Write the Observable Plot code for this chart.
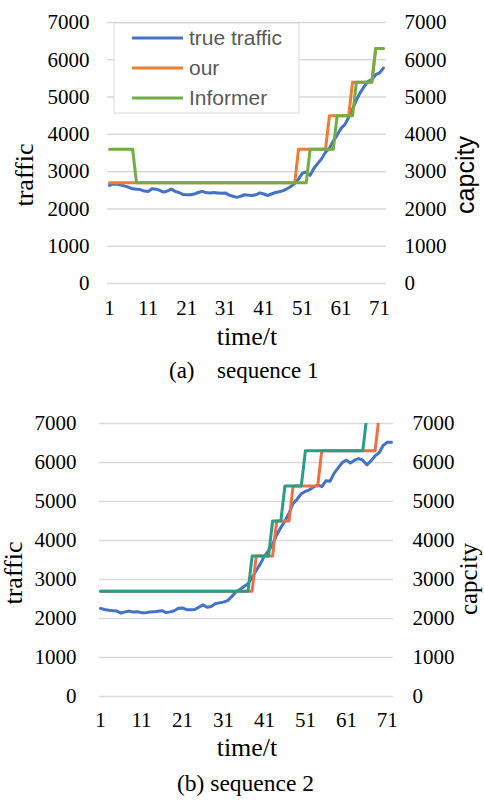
<!DOCTYPE html>
<html><head><meta charset="utf-8">
<script src="https://cdn.jsdelivr.net/npm/d3@7"></script>
<script src="https://cdn.jsdelivr.net/npm/@observablehq/plot@0.6"></script>
<style>
body{margin:0;background:#fff;}
#wrap{position:relative;width:484px;height:800px;overflow:hidden;background:#fff;}
#wrap svg{position:absolute;left:0;}
</style></head><body><div id="wrap"></div>
<script>
// ---------- data ----------
const xTicks = [1, 11, 21, 31, 41, 51, 61, 71];
const yTicks = [0, 1000, 2000, 3000, 4000, 5000, 6000, 7000];
const seriesNames = ["true traffic", "our", "Informer"];

const seq1True = [
  2630,2670,2660,2640,2610,2580,2540,2530,2520,2480,
  2470,2540,2530,2500,2450,2480,2530,2470,2440,2390,
  2380,2380,2400,2440,2470,2440,2430,2440,2430,2420,
  2430,2370,2340,2310,2340,2380,2370,2360,2380,2430,
  2400,2360,2400,2440,2460,2490,2540,2600,2680,2800,
  2960,2990,2900,3090,3220,3350,3520,3630,3820,3980,
  4160,4260,4460,4680,4920,5120,5280,5420,5470,5600,
  5650,5780];
const seq1Our = [
  2700,2700,2700,2700,2700,2700,2700,2700,2700,2700,
  2700,2700,2700,2700,2700,2700,2700,2700,2700,2700,
  2700,2700,2700,2700,2700,2700,2700,2700,2700,2700,
  2700,2700,2700,2700,2700,2700,2700,2700,2700,2700,
  2700,2700,2700,2700,2700,2700,2700,2700,2700,3600,
  3600,3600,3600,3600,3600,3600,3600,4500,4500,4500,
  4500,4500,4500,5400,5400,5400,5400,5400,5400,6300,
  6300,6300];
const seq1Informer = [
  3600,3600,3600,3600,3600,3600,3600,2700,2700,2700,
  2700,2700,2700,2700,2700,2700,2700,2700,2700,2700,
  2700,2700,2700,2700,2700,2700,2700,2700,2700,2700,
  2700,2700,2700,2700,2700,2700,2700,2700,2700,2700,
  2700,2700,2700,2700,2700,2700,2700,2700,2700,2700,
  2700,2700,3600,3600,3600,3600,3600,3600,3600,4500,
  4500,4500,4500,4500,5400,5400,5400,5400,5400,6300,
  6300,6300];

const seq2True = [
  2260,2230,2210,2200,2190,2140,2170,2190,2165,2175,
  2150,2150,2165,2170,2185,2200,2150,2170,2200,2265,
  2270,2225,2225,2230,2290,2350,2290,2310,2380,2400,
  2420,2460,2560,2680,2740,2820,2890,3050,3230,3400,
  3600,3740,3900,4150,4330,4500,4700,4950,5060,5200,
  5260,5300,5370,5430,5380,5530,5520,5720,5860,6000,
  6060,5990,6060,6100,6060,5940,6040,6170,6250,6440,
  6520,6520];
const seq2Our = [
  2700,2700,2700,2700,2700,2700,2700,2700,2700,2700,
  2700,2700,2700,2700,2700,2700,2700,2700,2700,2700,
  2700,2700,2700,2700,2700,2700,2700,2700,2700,2700,
  2700,2700,2700,2700,2700,2700,2700,2700,3600,3600,
  3600,3600,3600,4500,4500,4500,4500,5400,5400,5400,
  5400,5400,5400,5400,6300,6300,6300,6300,6300,6300,
  6300,6300,6300,6300,6300,6300,6300,6300,7200,7200,
  7200,7200];
const seq2Informer = [
  2700,2700,2700,2700,2700,2700,2700,2700,2700,2700,
  2700,2700,2700,2700,2700,2700,2700,2700,2700,2700,
  2700,2700,2700,2700,2700,2700,2700,2700,2700,2700,
  2700,2700,2700,2700,2700,2700,2700,3600,3600,3600,
  3600,3600,4500,4500,4500,5400,5400,5400,5400,5400,
  6300,6300,6300,6300,6300,6300,6300,6300,6300,6300,
  6300,6300,6300,6300,6300,7200,7200,7200,7200,7200,
  7200,7200];

const colors1 = ["#4472C4", "#ED7D31", "#70AD47"];
const colors2 = ["#4472C4", "#EC6F47", "#2B9C86"];

// ---------- helpers ----------
const rows = vals => vals.map((v, i) => ({t: i + 1, v}));
const SERIF = '"Liberation Serif","Times New Roman",serif';
const SANS = '"Liberation Sans",Arial,sans-serif';

function chart(c) {
  return Plot.plot({
    width: 484, height: 400,
    marginTop: c.mt, marginBottom: c.mb, marginLeft: c.ml, marginRight: c.mr,
    x: {domain: c.xDomain},
    y: {domain: [0, 7000]},
    style: {fontFamily: SERIF, fontSize: "21px", color: "#000", background: "transparent", overflow: "visible"},
    marks: [
      Plot.ruleY(yTicks, {stroke: "#d9d9d9", strokeWidth: 1.5}),
      Plot.axisY({anchor: "left", ticks: yTicks, tickSize: 0, tickPadding: c.padL, tickFormat: d => String(d), label: null}),
      Plot.axisY({anchor: "right", ticks: yTicks, tickSize: 0, tickPadding: c.padR, tickFormat: d => String(d), label: null}),
      Plot.axisX({ticks: xTicks, tickSize: 0, tickPadding: c.padX, tickFormat: d => String(d), label: null}),
      ...c.series.map((s, i) => Plot.line(rows(s), {x: "t", y: "v", stroke: c.colors[i], strokeWidth: 3, strokeLinejoin: "round", strokeLinecap: "round", clip: true}))
    ]
  });
}

function addText(g, o) {
  const t = g.append("text")
    .attr("text-anchor", o.anchor || "middle")
    .attr("font-family", o.font || SERIF)
    .attr("font-size", o.size)
    .attr("fill", o.fill || "#000")
    .text(o.text);
  if (o.rotate) t.attr("transform", `translate(${o.x},${o.y}) rotate(-90)`);
  else t.attr("x", o.x).attr("y", o.y);
  return t;
}

const wrap = document.getElementById("wrap");

// ---------- chart (a) ----------
const svgA = chart({mt: 22, mb: 117, ml: 107, mr: 98, xDomain: [0.48, 72.8], padL: 18, padR: 18, padX: 17,
  series: [seq1True, seq1Our, seq1Informer], colors: colors1});
svgA.style.top = "0px";
wrap.appendChild(svgA);
{
  const g = d3.select(svgA).append("g");
  addText(g, {x: 33, y: 175, rotate: true, size: 26, text: "traffic"});
  addText(g, {x: 474, y: 175, rotate: true, size: 25, font: SANS, text: "capcity"});
  addText(g, {x: 247, y: 345, size: 26, text: "time/t"});
  addText(g, {x: 169, y: 378, size: 23, anchor: "start", text: "(a)"});
  addText(g, {x: 217, y: 378, size: 23, anchor: "start", text: "sequence 1"});
  // legend
  const lg = g.append("g");
  lg.append("rect").attr("x", 114).attr("y", 23).attr("width", 185).attr("height", 90)
    .attr("fill", "#fff").attr("stroke", "#d9d9d9").attr("stroke-width", 1);
  seriesNames.forEach((n, i) => {
    const y = 38 + i * 30;
    lg.append("line").attr("x1", 132).attr("x2", 183).attr("y1", y).attr("y2", y)
      .attr("stroke", colors1[i]).attr("stroke-width", 3);
    addText(lg, {x: 189, y: y + 7, size: 21, font: SANS, fill: "#595959", anchor: "start", text: n});
  });
}

// ---------- chart (b) ----------
const svgB = chart({mt: 23, mb: 104, ml: 99, mr: 91, xDomain: [0.75, 72.5], padL: 23, padR: 19, padX: 16,
  series: [seq2True, seq2Our, seq2Informer], colors: colors2});
svgB.style.top = "400px";
wrap.appendChild(svgB);
{
  const g = d3.select(svgB).append("g");
  addText(g, {x: 22, y: 173, rotate: true, size: 26, text: "traffic"});
  addText(g, {x: 477, y: 179, rotate: true, size: 25, text: "capcity"});
  addText(g, {x: 247, y: 356, size: 26, text: "time/t"});
  addText(g, {x: 245.5, y: 391, size: 23.5, text: "(b) sequence 2"});
}
</script></body></html>
